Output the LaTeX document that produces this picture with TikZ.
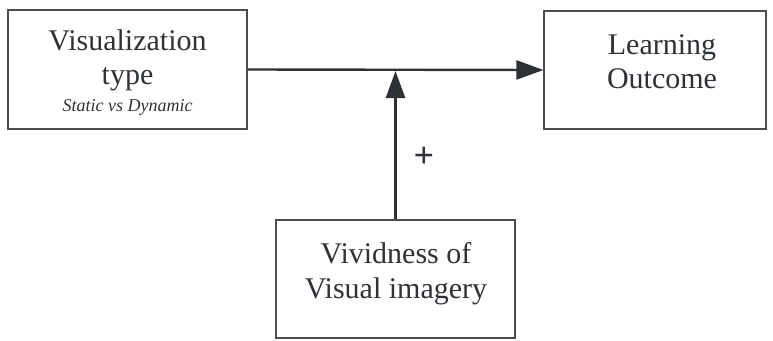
\documentclass[tikz,border=0pt]{standalone}
\usepackage{fontspec}
\setmainfont{Liberation Serif}
\usetikzlibrary{arrows.meta}
\definecolor{ink}{HTML}{2E3237}
\definecolor{boxline}{HTML}{4A4E53}
\tikzset{
  box/.style={draw=boxline, line width=1.1pt, inner sep=0pt},
  lbl/.style={anchor=base, text=ink, inner sep=0pt, font=\fontsize{30}{34}\selectfont},
  sublbl/.style={anchor=base, text=ink, inner sep=0pt, font=\fontsize{18}{20}\selectfont\itshape},
  conn/.style={draw=ink, line width=2.4pt, -{Triangle[length=27pt,width=19pt]}},
}
\begin{document}
\begin{tikzpicture}[x=1pt,y=1pt]
\useasboundingbox (0,0) rectangle (773,-340);
% boxes
\node[box, minimum width=239pt, minimum height=119pt] (vis) at (127.5,-69.5) {};
\node[box, minimum width=222pt, minimum height=118pt] (out) at (655,-70) {};
\node[box, minimum width=239pt, minimum height=118pt] (viv) at (395.5,-279) {};
% texts
\node[lbl] (vis1) at (127.5,-50) {Visualization};
\node[lbl] (vis2) at (127.5,-84) {type};
\node[sublbl] (vis3) at (127.5,-111) {Static vs Dynamic};
\node[lbl] (out1) at (662,-54) {Learning};
\node[lbl] (out2) at (662,-88) {Outcome};
\node[lbl] (viv1) at (396,-263) {Vividness of};
\node[lbl] (viv2) at (396,-298) {Visual imagery};
% connectors
\draw[conn] (vis.east) -- (out.west);
\coordinate (meet) at (viv.north |- vis.east);
\draw[conn, shorten >=1.5pt] (viv.north) -- (meet);
\node[text=ink, font=\fontsize{36}{38}\selectfont\bfseries, inner sep=0pt] (plus) at (424,-157) {+};
\end{tikzpicture}
\end{document}
